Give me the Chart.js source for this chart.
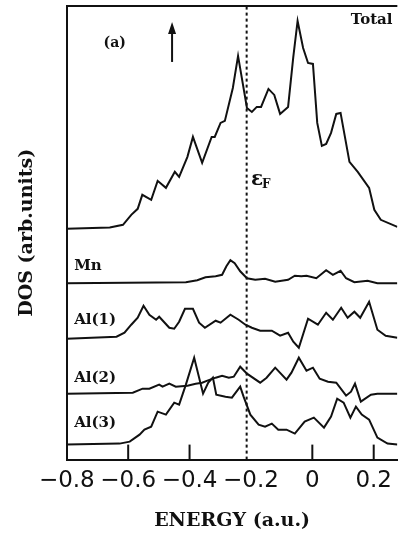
<!DOCTYPE html>
<html lang="en">
<head>
    <meta charset="UTF-8">
    <title>DOS (a)</title>
    <script src="https://cdn.jsdelivr.net/npm/chart.js"></script>
    <style>
        html, body { margin: 0; padding: 0; background: #fff; }
        #wrap { width: 400px; height: 534px; position: relative; }
    </style>
</head>
<body>
<div id="wrap"><canvas id="dos"></canvas></div>
<script>
    // energies (a.u.) and DOS heights above each curve's own baseline (arb. units)
    const totalE = [-0.800, -0.660, -0.617, -0.590, -0.569, -0.554, -0.525, -0.504, -0.477, -0.448, -0.434, -0.407, -0.389, -0.359, -0.328, -0.318, -0.299, -0.285, -0.259, -0.242, -0.213, -0.197, -0.181, -0.167, -0.143, -0.124, -0.105, -0.079, -0.062, -0.048, -0.030, -0.014, 0.002, 0.016, 0.031, 0.045, 0.061, 0.078, 0.092, 0.121, 0.148, 0.185, 0.202, 0.223, 0.277];
    const totalDOS = [0, 1.3, 4, 14, 20, 34, 29, 48, 41, 57, 52, 72, 92, 66, 92, 92, 106, 108, 141, 173, 121, 117, 122, 122, 140, 134, 115, 122, 172, 208, 181, 166, 165, 106, 83, 85, 96, 115, 116, 67, 57, 41, 19, 9, 2];

    const mnE = [-0.800, -0.412, -0.375, -0.348, -0.315, -0.294, -0.280, -0.267, -0.253, -0.235, -0.213, -0.186, -0.154, -0.121, -0.079, -0.057, -0.036, -0.019, 0.013, 0.045, 0.067, 0.092, 0.110, 0.137, 0.180, 0.212, 0.277];
    const mnDOS = [0, 1, 3, 6, 7, 8.5, 17, 23, 20, 12, 5, 3.5, 4.5, 1.5, 3.5, 7.5, 7, 7.5, 5, 13, 8.5, 12.5, 5, 1, 2.5, 0, 0];

    const al1E = [-0.800, -0.638, -0.612, -0.590, -0.569, -0.550, -0.531, -0.509, -0.499, -0.466, -0.450, -0.434, -0.415, -0.389, -0.369, -0.350, -0.315, -0.299, -0.267, -0.240, -0.218, -0.197, -0.170, -0.132, -0.105, -0.079, -0.062, -0.044, -0.014, 0.018, 0.045, 0.067, 0.094, 0.115, 0.137, 0.156, 0.185, 0.212, 0.239, 0.277];
    const al1DOS = [0, 2, 6, 14, 21, 33, 24, 19, 22, 11, 10, 17, 30, 30, 16, 11, 18, 16, 24, 19, 14, 11, 8, 8, 3, 6, -3, -9, 20, 14, 26, 19, 31, 21, 27, 21, 37, 9, 3, 1];

    const al2E = [-0.800, -0.585, -0.553, -0.531, -0.499, -0.488, -0.466, -0.445, -0.407, -0.380, -0.359, -0.342, -0.315, -0.294, -0.272, -0.256, -0.235, -0.213, -0.170, -0.149, -0.121, -0.084, -0.068, -0.044, -0.019, 0.002, 0.024, 0.051, 0.078, 0.110, 0.126, 0.139, 0.158, 0.191, 0.212, 0.277];
    const al2DOS = [0, 1, 5, 5, 9, 7, 10, 7, 8, 10, 11, 13, 16, 18, 16, 17, 27, 20, 11, 16, 26, 14, 21, 36, 23, 26, 15, 12, 11, -2, 2, 10, -8, -1, 0, 0];

    const al3E = [-0.800, -0.628, -0.595, -0.563, -0.547, -0.525, -0.504, -0.477, -0.450, -0.434, -0.412, -0.385, -0.356, -0.339, -0.324, -0.313, -0.283, -0.262, -0.235, -0.224, -0.202, -0.175, -0.154, -0.132, -0.111, -0.084, -0.057, -0.025, 0.005, 0.038, 0.061, 0.081, 0.102, 0.124, 0.142, 0.161, 0.185, 0.212, 0.245, 0.277];
    const al3DOS = [0, 1, 3, 10, 15, 18, 33, 30, 42, 40, 60, 87, 51, 62, 67, 50, 48, 47, 58, 48, 30, 20, 18, 21, 15, 15, 11, 23, 27, 17, 28, 46, 42, 27, 38, 30, 25, 7, 1, 0];

    const curveNames = ['Total', 'Mn', 'Al(1)', 'Al(2)', 'Al(3)'];
    const baselines = [231, 176.5, 121, 66, 15];
    const fermiEnergy = -0.214;
    const xTicks = [-0.8, -0.6, -0.4, -0.2, 0, 0.2];

    const curves = [[totalE, totalDOS], [mnE, mnDOS], [al1E, al1DOS], [al2E, al2DOS], [al3E, al3DOS]];
    const ink = '#111';
    const serif = '"DejaVu Serif", serif';

    const datasets = curves.map(([es, ds], k) => ({
        label: curveNames[k],
        data: es.map((e, i) => ({ x: e, y: baselines[k] + ds[i] })),
        borderColor: ink, borderWidth: 2, pointRadius: 0, tension: 0, fill: false
    }));
    datasets.push({
        label: 'EF',
        data: [{ x: fermiEnergy, y: 0 }, { x: fermiEnergy, y: 454 }],
        borderColor: ink, borderWidth: 2, borderDash: [3, 3], pointRadius: 0
    });

    // text labels and decorations placed in data coordinates
    const decor = {
        id: 'decor',
        afterDraw(chart) {
            const { ctx, chartArea: a, scales: { x, y } } = chart;
            ctx.save();
            ctx.strokeStyle = ink;
            ctx.fillStyle = ink;
            ctx.lineWidth = 2;
            // top frame
            ctx.beginPath(); ctx.moveTo(a.left, a.top); ctx.lineTo(a.right, a.top); ctx.stroke();
            // inward ticks on the bottom axis
            const efPx = x.getPixelForValue(fermiEnergy);
            xTicks.slice(1).forEach(v => {
                const px = x.getPixelForValue(v);
                if (Math.abs(px - efPx) < 6) return;
                ctx.beginPath(); ctx.moveTo(px, a.bottom); ctx.lineTo(px, a.bottom - 15); ctx.stroke();
            });
            // arrow (spin up)
            const ax = x.getPixelForValue(-0.457), ay0 = y.getPixelForValue(398), ay1 = y.getPixelForValue(438);
            ctx.beginPath(); ctx.moveTo(ax, ay0); ctx.lineTo(ax, ay1 + 8); ctx.stroke();
            ctx.beginPath(); ctx.moveTo(ax, ay1); ctx.lineTo(ax - 4, ay1 + 12); ctx.lineTo(ax + 4, ay1 + 12); ctx.closePath(); ctx.fill();

            ctx.textBaseline = 'middle';
            ctx.font = 'bold 14px ' + serif;
            ctx.textAlign = 'center';
            ctx.fillText('(a)', x.getPixelForValue(-0.644), y.getPixelForValue(417));
            ctx.textAlign = 'left';
            ctx.font = 'bold 15px ' + serif;
            ctx.fillText('Total', x.getPixelForValue(0.125), y.getPixelForValue(440));
            const labelVals = [null, 194, 140, 82, 37];
            ctx.font = 'bold 15px ' + serif;
            for (let k = 1; k < curveNames.length; k++) {
                ctx.fillText(curveNames[k], x.getPixelForValue(-0.776), y.getPixelForValue(labelVals[k]));
            }
            // epsilon_F
            const ex = x.getPixelForValue(-0.200), ey = y.getPixelForValue(280);
            ctx.font = 'bold 20px ' + serif;
            ctx.fillText('\u03b5', ex, ey);
            ctx.font = 'bold 12px ' + serif;
            ctx.fillText('F', ex + 11, ey + 5);
            ctx.restore();
        }
    };

    new Chart(document.getElementById('dos'), {
        type: 'line',
        data: { datasets },
        options: {
            responsive: true,
            maintainAspectRatio: false,
            animation: false,
            events: [],
            layout: { padding: { left: 16, top: 6, right: 0, bottom: 2 } },
            plugins: { legend: { display: false }, tooltip: { enabled: false } },
            scales: {
                x: {
                    type: 'linear', min: -0.8, max: 0.277,
                    grid: { display: false, drawTicks: false },
                    border: { display: true, color: ink, width: 2 },
                    afterBuildTicks: s => { s.ticks = xTicks.map(v => ({ value: v })); },
                    ticks: {
                        color: ink, padding: 8,
                        font: { family: '"DejaVu Sans", sans-serif', size: 23 },
                        callback: v => v === 0 ? '0' : (v < 0 ? '\u2212' : '') + Math.abs(v).toFixed(1)
                    },
                    title: {
                        display: true, text: 'ENERGY (a.u.)', color: ink,
                        font: { family: serif, size: 19, weight: 'bold' },
                        padding: { top: 6, bottom: 0 }
                    }
                },
                y: {
                    type: 'linear', min: 0, max: 454,
                    grid: { display: false, drawTicks: false },
                    border: { display: true, color: ink, width: 2 },
                    ticks: { display: false },
                    title: {
                        display: true, text: 'DOS (arb.units)', color: ink,
                        font: { family: serif, size: 19, weight: 'bold' },
                        padding: { top: 0, bottom: 28 }
                    }
                }
            }
        },
        plugins: [decor]
    });
</script>
</body>
</html>
